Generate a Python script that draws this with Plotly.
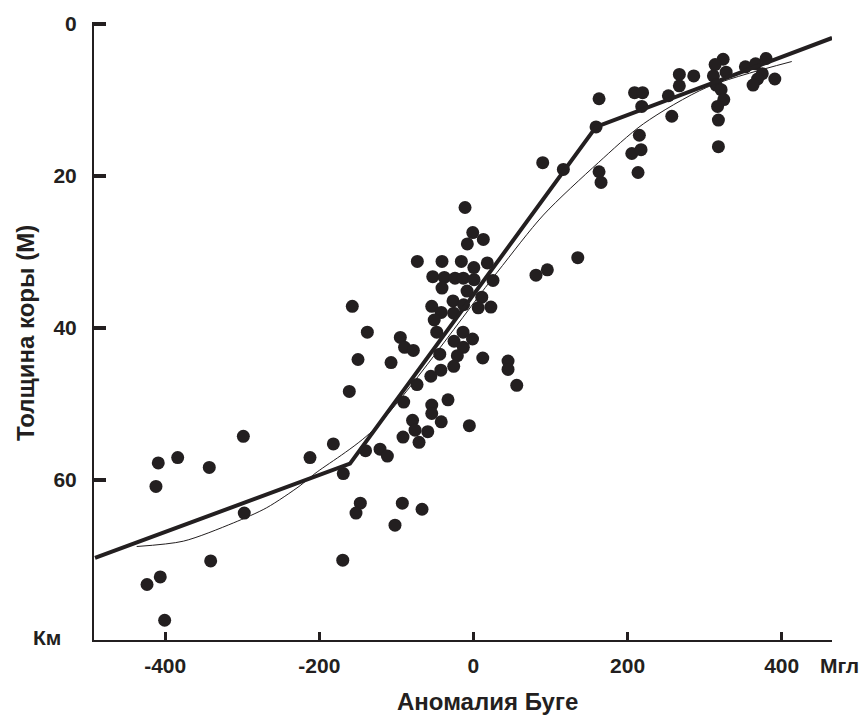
import plotly.graph_objects as go

# Observation points: Bouguer anomaly (mGal) vs crustal thickness (km)
anomaly = [
    -298.6, -409.0, -383.8, -342.8, -412.0, -297.4, -341.0, -406.4, -423.6, -400.7,
    -212.1, -168.9, -140.0, -121.2, -111.7, -146.8, -152.4, -92.3, -66.7, -101.8,
    -169.6, 89.9, 116.7, 163.0, 165.6, -10.9, -0.9, 12.8, -7.9, -72.8,
    -40.8, -15.7, 18.0, 0.5, -52.8, -37.8, -23.9, -13.1, 0.8, 25.4,
    -40.8, -8.3, 10.8, -26.5, -12.8, -54.1, 6.2, 22.6, -41.8, -25.6,
    -50.9, -157.2, -137.7, -47.6, -13.5, -94.9, -1.2, -89.4, -78.0, -25.2,
    -13.1, -43.7, -20.9, 12.1, 44.9, 44.9, -149.8, -106.9, -25.6, -42.3,
    -55.3, 56.2, -73.2, -161.1, -90.5, -33.0, -54.1, -54.1, -79.0, -41.8,
    -5.3, -75.8, -59.3, -91.4, -70.6, -181.8, 81.2, 95.9, 135.4, 163.0,
    159.1, 209.1, 219.5, 218.4, 267.2, 267.2, 285.9, 253.0, 257.4, 215.3,
    205.5, 217.5, 213.6, 324.0, 313.6, 311.4, 327.9, 314.9, 321.4, 324.9,
    316.8, 317.9, 317.9, 352.9, 366.1, 379.8, 374.8, 368.7, 362.9, 391.1,
]
thickness = [
    54.3, 57.8, 57.1, 58.4, 60.9, 64.4, 70.7, 72.8, 73.8, 78.5,
    57.1, 59.2, 56.2, 56.0, 56.9, 63.1, 64.4, 63.1, 63.9, 66.0,
    70.6, 18.3, 19.2, 19.5, 20.9, 24.2, 27.5, 28.4, 29.0, 31.3,
    31.3, 31.3, 31.5, 32.1, 33.3, 33.4, 33.5, 33.5, 33.7, 33.8,
    34.8, 35.2, 36.0, 36.5, 37.0, 37.2, 37.4, 37.3, 38.0, 38.1,
    39.0, 37.2, 40.6, 40.6, 40.6, 41.3, 41.5, 42.6, 43.0, 41.8,
    42.6, 43.5, 43.7, 44.0, 44.4, 45.5, 44.2, 44.6, 45.1, 45.6,
    46.4, 47.6, 47.5, 48.4, 49.8, 49.5, 50.2, 51.3, 52.2, 52.4,
    52.9, 53.5, 53.7, 54.4, 55.1, 55.3, 33.1, 32.4, 30.8, 9.9,
    13.6, 9.1, 9.1, 10.9, 6.7, 8.2, 6.9, 9.5, 12.2, 14.7,
    17.1, 16.6, 19.6, 4.7, 5.4, 6.9, 6.4, 8.1, 8.7, 10.0,
    10.9, 12.7, 16.2, 5.7, 5.3, 4.6, 6.6, 7.3, 8.1, 7.3,
]

# Piecewise (thick) regression line
broken_x = [-491.1, -160.2, 159.1, 465.4]
broken_y = [70.3, 57.9, 13.6, 1.9]

# Smooth (thin) regression curve
smooth_x = [-437.0, -376.5, -311.6, -268.3, -225.0, -205.6, -130.3, 30.2, 90.7, 162.1, 220.5, 302.8, 413.1]
smooth_y = [68.8, 68.1, 65.7, 63.7, 60.8, 59.2, 53.5, 32.8, 25.2, 18.3, 13.2, 8.4, 5.0]

x_ticks = [-400, -200, 0, 200, 400]
y_ticks = [0, 20, 40, 60]

INK = "#231f20"
FONT = "Liberation Sans, Arial, sans-serif"

fig = go.Figure()
fig.add_trace(go.Scatter(x=anomaly, y=thickness, mode="markers",
                         marker=dict(size=13, color=INK, line=dict(width=0)),
                         showlegend=False, hoverinfo="skip"))
fig.add_trace(go.Scatter(x=smooth_x, y=smooth_y, mode="lines",
                         line=dict(color=INK, width=1, shape="spline", smoothing=0.8),
                         showlegend=False, hoverinfo="skip"))
fig.add_trace(go.Scatter(x=broken_x, y=broken_y, mode="lines",
                         line=dict(color=INK, width=4), showlegend=False, hoverinfo="skip"))

fig.update_layout(
    width=865, height=717,
    margin=dict(l=94, r=33, t=15, b=77),
    paper_bgcolor="white", plot_bgcolor="white",
    font=dict(family=FONT, color=INK, size=21, weight="bold"),
    showlegend=False,
)
fig.update_xaxes(
    range=[-492.4, 465.3], tickvals=x_ticks, ticktext=[str(v) for v in x_ticks],
    ticks="inside", ticklen=8, tickwidth=3, tickcolor=INK,
    showline=True, linewidth=2, linecolor=INK,
    showgrid=False, zeroline=False,
    tickfont=dict(family=FONT, size=21, color=INK, weight="bold"),
    ticklabelstandoff=6,
)
fig.update_yaxes(
    range=[81.1, -0.2], tickvals=y_ticks, ticktext=[str(v) for v in y_ticks],
    ticks="inside", ticklen=12, tickwidth=4, tickcolor=INK,
    showline=True, linewidth=2, linecolor=INK,
    showgrid=False, zeroline=False,
    tickfont=dict(family=FONT, size=21, color=INK, weight="bold"),
    ticklabelstandoff=11,
)

def ann(text, x, y, size, angle=0):
    fig.add_annotation(text=text, x=x, y=y, xref="paper", yref="paper",
                       showarrow=False, textangle=angle,
                       xanchor="center", yanchor="middle",
                       font=dict(family=FONT, size=size, color=INK, weight="bold"))

ann("Аномалия Буге", 0.533, -0.0994, 24)
ann("Толщина коры (М)", -0.0921, 0.4968, 24, angle=-90)
ann("Км", -0.0637, 0.0048, 21)
ann("Мгл", 1.0108, -0.0417, 21)

fig.write_html("out.html", config={"displayModeBar": False},
               post_script="document.body.style.margin='0';")
